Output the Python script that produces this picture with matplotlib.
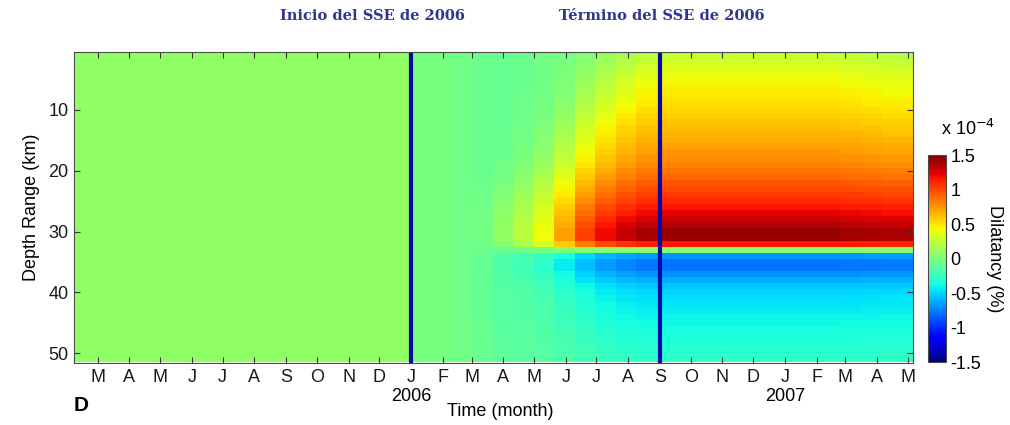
import datetime as dt
import numpy as np
import matplotlib
matplotlib.use('Agg')
import matplotlib.pyplot as plt
import matplotlib.dates as mdates
import matplotlib.transforms as mtrans

plt.rcParams['font.family'] = ['Liberation Sans', 'DejaVu Sans']
plt.rcParams['axes.unicode_minus'] = False

# depth cells (km), one per km
depth_km = np.arange(1, 52)

# dilatancy after the SSE (x 1e-4 %), read per depth
dilat_profile = np.array([
    0.25, 0.30, 0.34, 0.38, 0.42, 0.45, 0.48, 0.50, 0.52, 0.55,
    0.58, 0.60, 0.63, 0.66, 0.69, 0.72, 0.75, 0.78, 0.82, 0.86,
    0.90, 0.95, 1.00, 1.05, 1.10, 1.16, 1.22, 1.29, 1.36, 1.42,
    1.42, 1.15, 0.05, -0.68, -0.78, -0.78, -0.70, -0.62, -0.55, -0.50,
    -0.47, -0.45, -0.43, -0.41, -0.39, -0.37, -0.35, -0.33, -0.32, -0.30,
    -0.29])

# réponse plus lente vers la surface (exposant sur la croissance)
onset_power = [6.0, 5.6, 5.2, 4.8, 4.4, 4.0, 3.6, 3.3, 3.0, 2.7,
               2.5, 2.3, 2.1, 2.0, 1.9, 1.8, 1.7, 1.6, 1.5, 1.4,
               1.3, 1.2, 1.15, 1.1, 1.05, 1.0, 1.0, 1.0, 1.0, 1.0,
               1.0, 1.0, 1.0, 1.0, 1.0, 1.0, 1.0, 1.0, 1.0, 1.0,
               1.0, 1.0, 1.0, 1.0, 1.0, 1.0, 1.0, 1.0, 1.0, 1.0,
               1.0]

pre_sse_value = 0.08      # valeur uniforme avant 2006

# growth of the signal, one value per 20-day step from 1 Jan 2006
step_amp = [0.0, 0.0, 0.0, 0.03, 0.12, 0.20, 0.32, 0.52, 0.72, 0.85,
            0.93, 0.98, 1.0, 1.0, 1.0, 1.0, 1.0, 1.0, 1.0, 1.0,
            1.0, 0.99, 0.98, 0.97, 0.97]
step_offset = [-0.02, -0.02, -0.04, -0.07, -0.08, -0.06, -0.04, -0.02, 0.0, 0.0,
               0.0, 0.0, 0.0, 0.0, 0.0, 0.0, 0.0, 0.0, 0.0, 0.0,
               0.0, 0.0, 0.0, 0.0, 0.0]
step_days = 20

t_start = dt.datetime(2005, 2, 6)
t_end = dt.datetime(2007, 5, 6)
sse_start = dt.datetime(2006, 1, 1)
sse_end = dt.datetime(2006, 9, 1)

month_letters = 'JFMAMJJASOND'
year_marks = [dt.datetime(2006, 1, 1), dt.datetime(2007, 1, 1)]

# build the grid
t_edges = [t_start] + [sse_start + dt.timedelta(days=step_days * k)
                       for k in range(len(step_amp) + 1)]
x_edges = mdates.date2num(t_edges)
y_edges = np.append(depth_km - 0.5, depth_km[-1] + 0.5)

amp = np.array(step_amp)
Z = np.zeros((len(depth_km), len(t_edges) - 1))
Z[:, 0] = pre_sse_value
for i in range(len(depth_km)):
    Z[i, 1:] = np.array(step_offset) + amp ** onset_power[i] * dilat_profile[i]

fig = plt.figure(figsize=(10.10, 4.25), dpi=100)
ax = fig.add_axes([0.0733, 0.1459, 0.8307, 0.7318])
mesh = ax.pcolormesh(x_edges, y_edges, Z, cmap='jet', vmin=-1.5, vmax=1.5,
                     shading='flat')

for t in (sse_start, sse_end):
    ax.axvline(mdates.date2num(t), color='#0808a8', lw=3.0)

ax.set_xlim(mdates.date2num(t_start), mdates.date2num(t_end))
ax.set_ylim(51.6, 0.5)

ticks = []
labels = []
m = dt.datetime(2005, 3, 1)
while m <= t_end:
    ticks.append(mdates.date2num(m))
    labels.append(month_letters[m.month - 1])
    m = dt.datetime(m.year + (m.month // 12), m.month % 12 + 1, 1)
ax.set_xticks(ticks)
ax.set_xticklabels(labels)
ax.set_yticks([10, 20, 30, 40, 50])

ax.tick_params(direction='in', length=4, width=0.8, top=True, right=True,
               labelsize=13, colors='#333333', labelcolor='#1a1a1a', pad=4)
for s in ax.spines.values():
    s.set_color('#4a4a4a')
    s.set_linewidth(0.8)

ax.set_ylabel('Depth Range (km)', fontsize=13, labelpad=6)

tr = mtrans.blended_transform_factory(ax.transData, fig.transFigure)
for y in year_marks:
    ax.text(mdates.date2num(y), 0.066, str(y.year), transform=tr,
            ha='center', va='center', fontsize=13)

fig.text(0.495, 0.032, 'Time (month)', ha='center', va='center', fontsize=13)
fig.text(0.073, 0.045, 'D', ha='left', va='center', fontsize=15,
         fontweight='bold')

# colorbar
cax = fig.add_axes([0.9188, 0.148, 0.0178, 0.487])
cb = fig.colorbar(mesh, cax=cax, ticks=[-1.5, -1, -0.5, 0, 0.5, 1, 1.5])
cb.ax.set_yticklabels(['-1.5', '-1', '-0.5', '0', '0.5', '1', '1.5'])
cb.ax.tick_params(direction='in', length=0, labelsize=13, pad=3)
cb.outline.set_edgecolor('#4a4a4a')
cb.outline.set_linewidth(0.8)
cb.set_label('Dilatancy (%)', rotation=270, fontsize=13, labelpad=16)
fig.text(0.958, 0.697, r'x 10$^{-4}$', ha='center', va='center', fontsize=13)

# titles of the two blue markers
title_kw = dict(ha='center', va='center', fontsize=10.5, fontweight='bold',
                color='#2e3592', family=['DejaVu Serif'])
fig.text(372 / 1010, 1 - 16 / 425, 'Inicio del SSE de 2006', **title_kw)
fig.text(662 / 1010, 1 - 16 / 425, 'Término del SSE de 2006', **title_kw)

fig.savefig('out.png', dpi=100)
